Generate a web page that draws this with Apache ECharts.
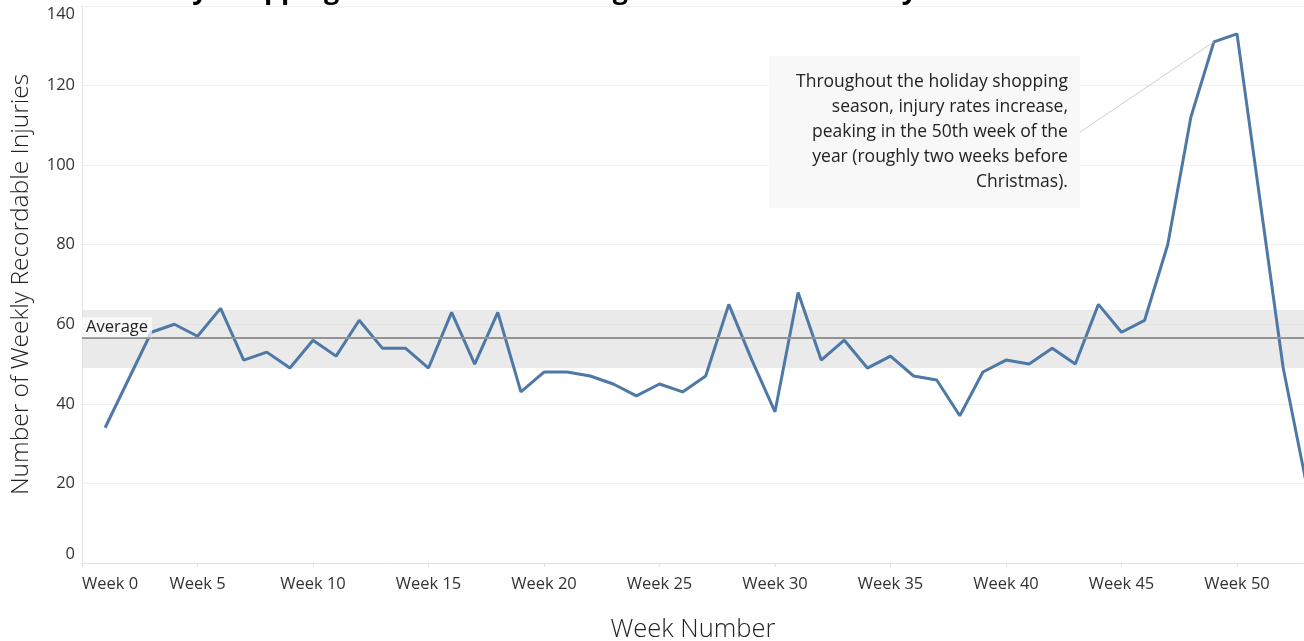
<!DOCTYPE html>
<html>
<head>
<meta charset="utf-8">
<script src="https://cdn.jsdelivr.net/npm/echarts@6/dist/echarts.min.js"></script>
<style>
html,body{margin:0;padding:0;background:#fff;}
#chart{width:1304px;height:641px;}
</style>
</head>
<body>
<div id="chart"></div>
<script>
// ---- data ----
const titleText = "Holiday Shopping Season Leads to Large Increases in Weekly Accidents";
const xAxisName = "Week Number";
const yAxisName = "Number of Weekly Recordable Injuries";
const weeks = [1,2,3,4,5,6,7,8,9,10,11,12,13,14,15,16,17,18,19,20,21,22,23,24,25,26,27,28,29,30,31,32,33,34,35,36,37,38,39,40,41,42,43,44,45,46,47,48,49,50,51,52,53];
const injuries = [34,46,58,60,57,64,51,53,49,56,52,61,54,54,49,63,50,63,43,48,48,47,45,42,45,43,47,65,51,38,68,51,56,49,52,47,46,37,48,51,50,54,50,65,58,61,80,112,131,133,91,49,20];
const bandRange = [49, 63.6];
const annotationText = "Throughout the holiday shopping\nseason, injury rates increase,\npeaking in the 50th week of the\nyear (roughly two weeks before\nChristmas).";
const annotationAnchor = [43.2, 108.3];
const annotatedWeek = 49;

const seriesData = weeks.map((w, i) => [w, injuries[i]]);
const annotatedPoint = seriesData[weeks.indexOf(annotatedWeek)];

const FONT = "'Open Sans', 'Noto Sans', sans-serif";
const chart = echarts.init(document.getElementById('chart'), null, {renderer: 'canvas'});
chart.setOption({
  animation: false,
  backgroundColor: '#ffffff',
  textStyle: {fontFamily: FONT},
  title: {
    text: titleText,
    left: 100,
    top: -27,
    textStyle: {fontFamily: FONT, fontSize: 27, fontWeight: 'bold', color: '#000'}
  },
  grid: {left: 82, right: 0, top: 6, bottom: 78, containLabel: false, outerBoundsMode: 'none'},
  xAxis: {
    type: 'value',
    min: 0,
    max: 52.9,
    interval: 5,
    name: xAxisName,
    nameLocation: 'middle',
    nameGap: 54,
    nameTextStyle: {fontFamily: FONT, fontSize: 25.5, fontWeight: 300, color: '#222'},
    axisLine: {show: true, lineStyle: {color: '#dcdcdc', type: 'dotted', width: 1}},
    axisTick: {show: true, length: 4, lineStyle: {color: '#e0e0e0'}},
    splitLine: {show: false},
    axisLabel: {
      formatter: v => 'Week ' + v,
      fontSize: 16.5, color: '#333', margin: 13,
      showMaxLabel: false,
      alignMinLabel: 'left'
    }
  },
  yAxis: {
    type: 'value',
    min: 0,
    max: 140,
    interval: 20,
    name: yAxisName,
    nameLocation: 'middle',
    nameGap: 48,
    nameTextStyle: {fontFamily: FONT, fontSize: 24.5, fontWeight: 300, color: '#222'},
    axisLine: {show: true, lineStyle: {color: '#dcdcdc', type: 'dotted', width: 1}},
    axisTick: {show: false},
    splitLine: {show: true, lineStyle: {color: '#f0f0f0', width: 1}},
    axisLabel: {
      fontSize: 16.5, color: '#333', margin: 7,
      verticalAlignMinLabel: 'bottom',
      verticalAlignMaxLabel: 'top'
    }
  },
  series: [{
    type: 'line',
    data: seriesData,
    showSymbol: false,
    symbol: 'none',
    clip: true,
    lineStyle: {color: '#4e79a7', width: 3},
    itemStyle: {color: '#4e79a7'},
    z: 3,
    markArea: {
      silent: true,
      itemStyle: {color: 'rgba(220,220,220,0.6)'},
      data: [[{yAxis: bandRange[0]}, {yAxis: bandRange[1]}]]
    },
    markLine: {
      silent: true,
      symbol: ['none', 'none'],
      data: [
        {
          type: 'average',
          lineStyle: {color: '#939393', width: 2, type: 'solid'},
          label: {
            show: true,
            formatter: 'Average',
            position: 'insideStartTop',
            distance: [0, 1],
            fontSize: 16.5,
            color: '#222',
            backgroundColor: 'rgba(255,255,255,0.7)',
            padding: [2, 4, 1, 4]
          }
        },
        [
          {coord: annotationAnchor, lineStyle: {color: '#cfcfcf', width: 1, type: 'solid'}, label: {show: false}},
          {coord: annotatedPoint}
        ]
      ]
    },
    markPoint: {
      silent: true,
      symbol: 'circle',
      symbolSize: 0,
      data: [{
        coord: annotationAnchor,
        label: {
          show: true,
          position: 'left',
          distance: 0,
          formatter: annotationText,
          fontSize: 17.5,
          lineHeight: 25,
          color: '#222',
          align: 'right',
          backgroundColor: '#f8f8f8',
          padding: [12, 12, 15, 27]
        }
      }]
    }
  }]
});
</script>
</body>
</html>
